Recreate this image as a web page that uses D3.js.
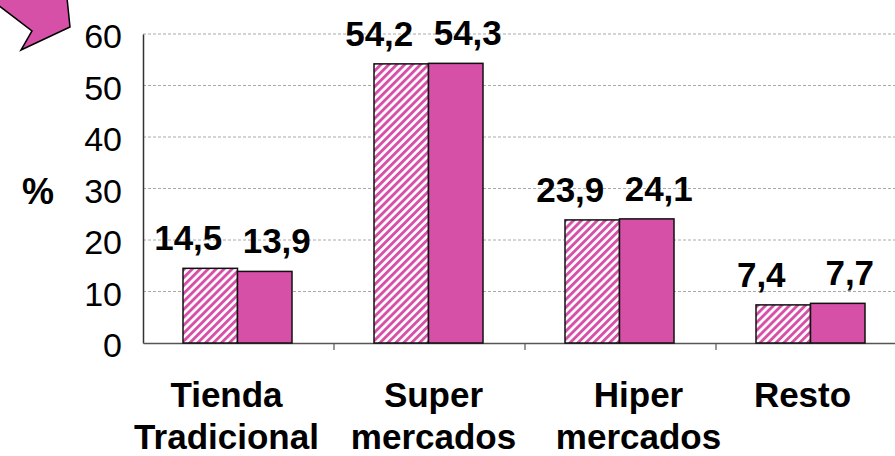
<!DOCTYPE html>
<html>
<head>
<meta charset="utf-8">
<script src="https://cdn.jsdelivr.net/npm/d3@7"></script>
<style>
  body { margin: 0; background: #fff; }
  svg { font-family: Arial, "Liberation Sans", sans-serif; }
</style>
</head>
<body>
<svg id="chart"></svg>
<script>
const categories = [['Tienda', 'Tradicional'], ['Super', 'mercados'], ['Hiper', 'mercados'], ['Resto']];
const seriesA = [14.5, 54.2, 23.9, 7.4];
const seriesB = [13.9, 54.3, 24.1, 7.7];
const yTicks = [0, 10, 20, 30, 40, 50, 60];

const width = 895, height = 456;
const pink = '#d650a8';
// small horizontal nudges of the category captions, as placed in the original slide
const captionNudge = [-12, 4, 18, -9];

const svg = d3.select('#chart')
  .attr('width', width)
  .attr('height', height);

const defs = svg.append('defs');
const pat = defs.append('pattern')
  .attr('id', 'hatch')
  .attr('patternUnits', 'userSpaceOnUse')
  .attr('width', 5.6)
  .attr('height', 5.6)
  .attr('patternTransform', 'rotate(45)');
pat.append('rect').attr('width', 5.6).attr('height', 5.6).attr('fill', '#fff');
pat.append('rect').attr('width', 2.9).attr('height', 5.6).attr('fill', pink);

const x = d3.scaleBand()
  .domain(d3.range(categories.length))
  .range([143, 907]);

const inner = d3.scaleBand()
  .domain(['a', 'b'])
  .range([40, 149]);

const y = d3.scaleLinear()
  .domain([0, 60])
  .range([343, 34]);

// gridlines
svg.append('g')
  .selectAll('line')
  .data(yTicks.filter(d => d > 0))
  .enter()
  .append('line')
  .attr('x1', 143)
  .attr('x2', width)
  .attr('y1', d => y(d))
  .attr('y2', d => y(d))
  .attr('stroke', '#aaa')
  .attr('stroke-width', 1)
  .attr('stroke-dasharray', '3,2');

// y axis
const yAxis = svg.append('g')
  .attr('transform', 'translate(143,0)')
  .call(d3.axisLeft(y).tickValues(yTicks).tickSize(0).tickPadding(21));
yAxis.select('.domain').attr('stroke', '#333').attr('stroke-width', 1.5);
yAxis.selectAll('text')
  .attr('font-size', 34)
  .attr('fill', '#000')
  .attr('dy', '0.4em')
  .attr('font-family', 'Arial, "Liberation Sans", sans-serif');

// x axis
const xAxis = svg.append('g')
  .attr('transform', 'translate(0,343)')
  .call(d3.axisBottom(x).tickSize(0).tickFormat(''));
xAxis.select('.domain').attr('stroke', '#555').attr('stroke-width', 1.5);
svg.append('g')
  .selectAll('line')
  .data(d3.range(1, categories.length))
  .enter()
  .append('line')
  .attr('x1', d => x(d))
  .attr('x2', d => x(d))
  .attr('y1', 344)
  .attr('y2', 350)
  .attr('stroke', '#555')
  .attr('stroke-width', 1.2);

// bars
const bars = [];
categories.forEach((c, i) => {
  bars.push({ i: i, key: 'a', v: seriesA[i] });
  bars.push({ i: i, key: 'b', v: seriesB[i] });
});

svg.selectAll('.bar')
  .data(bars)
  .enter()
  .append('rect')
  .attr('class', 'bar')
  .attr('x', d => x(d.i) + inner(d.key))
  .attr('y', d => y(d.v))
  .attr('width', inner.bandwidth())
  .attr('height', d => y(0) - y(d.v))
  .attr('fill', d => d.key === 'a' ? 'url(#hatch)' : pink)
  .attr('stroke', '#111')
  .attr('stroke-width', 1.5);

// value labels
svg.selectAll('.val')
  .data(bars)
  .enter()
  .append('text')
  .attr('class', 'val')
  .attr('x', d => x(d.i) + inner(d.key) + inner.bandwidth() / 2 + (d.key === 'a' ? -22 : 12))
  .attr('y', d => y(d.v) - 18)
  .attr('text-anchor', 'middle')
  .attr('font-size', 35)
  .attr('font-weight', 'bold')
  .text(d => String(d.v).replace('.', ','));

// category labels
const catLabels = svg.append('g');
categories.forEach((c, i) => {
  const t = catLabels.append('text')
    .attr('font-size', 35)
    .attr('font-weight', 'bold')
    .attr('text-anchor', 'middle');
  c.forEach((line, k) => {
    t.append('tspan')
      .attr('x', x(i) + x.bandwidth() / 2 + captionNudge[i])
      .attr('y', 407 + k * 42)
      .text(line);
  });
});

// % label
svg.append('text')
  .attr('x', 38)
  .attr('y', 204)
  .attr('text-anchor', 'middle')
  .attr('font-size', 36)
  .attr('font-weight', 'bold')
  .text('%');

// callout arrow
svg.append('polygon')
  .attr('points', '-2,-2 67,-2 70,27 21,50 32,31 -2,5')
  .attr('fill', pink)
  .attr('stroke', '#000')
  .attr('stroke-width', 1.5);
</script>
</body>
</html>
